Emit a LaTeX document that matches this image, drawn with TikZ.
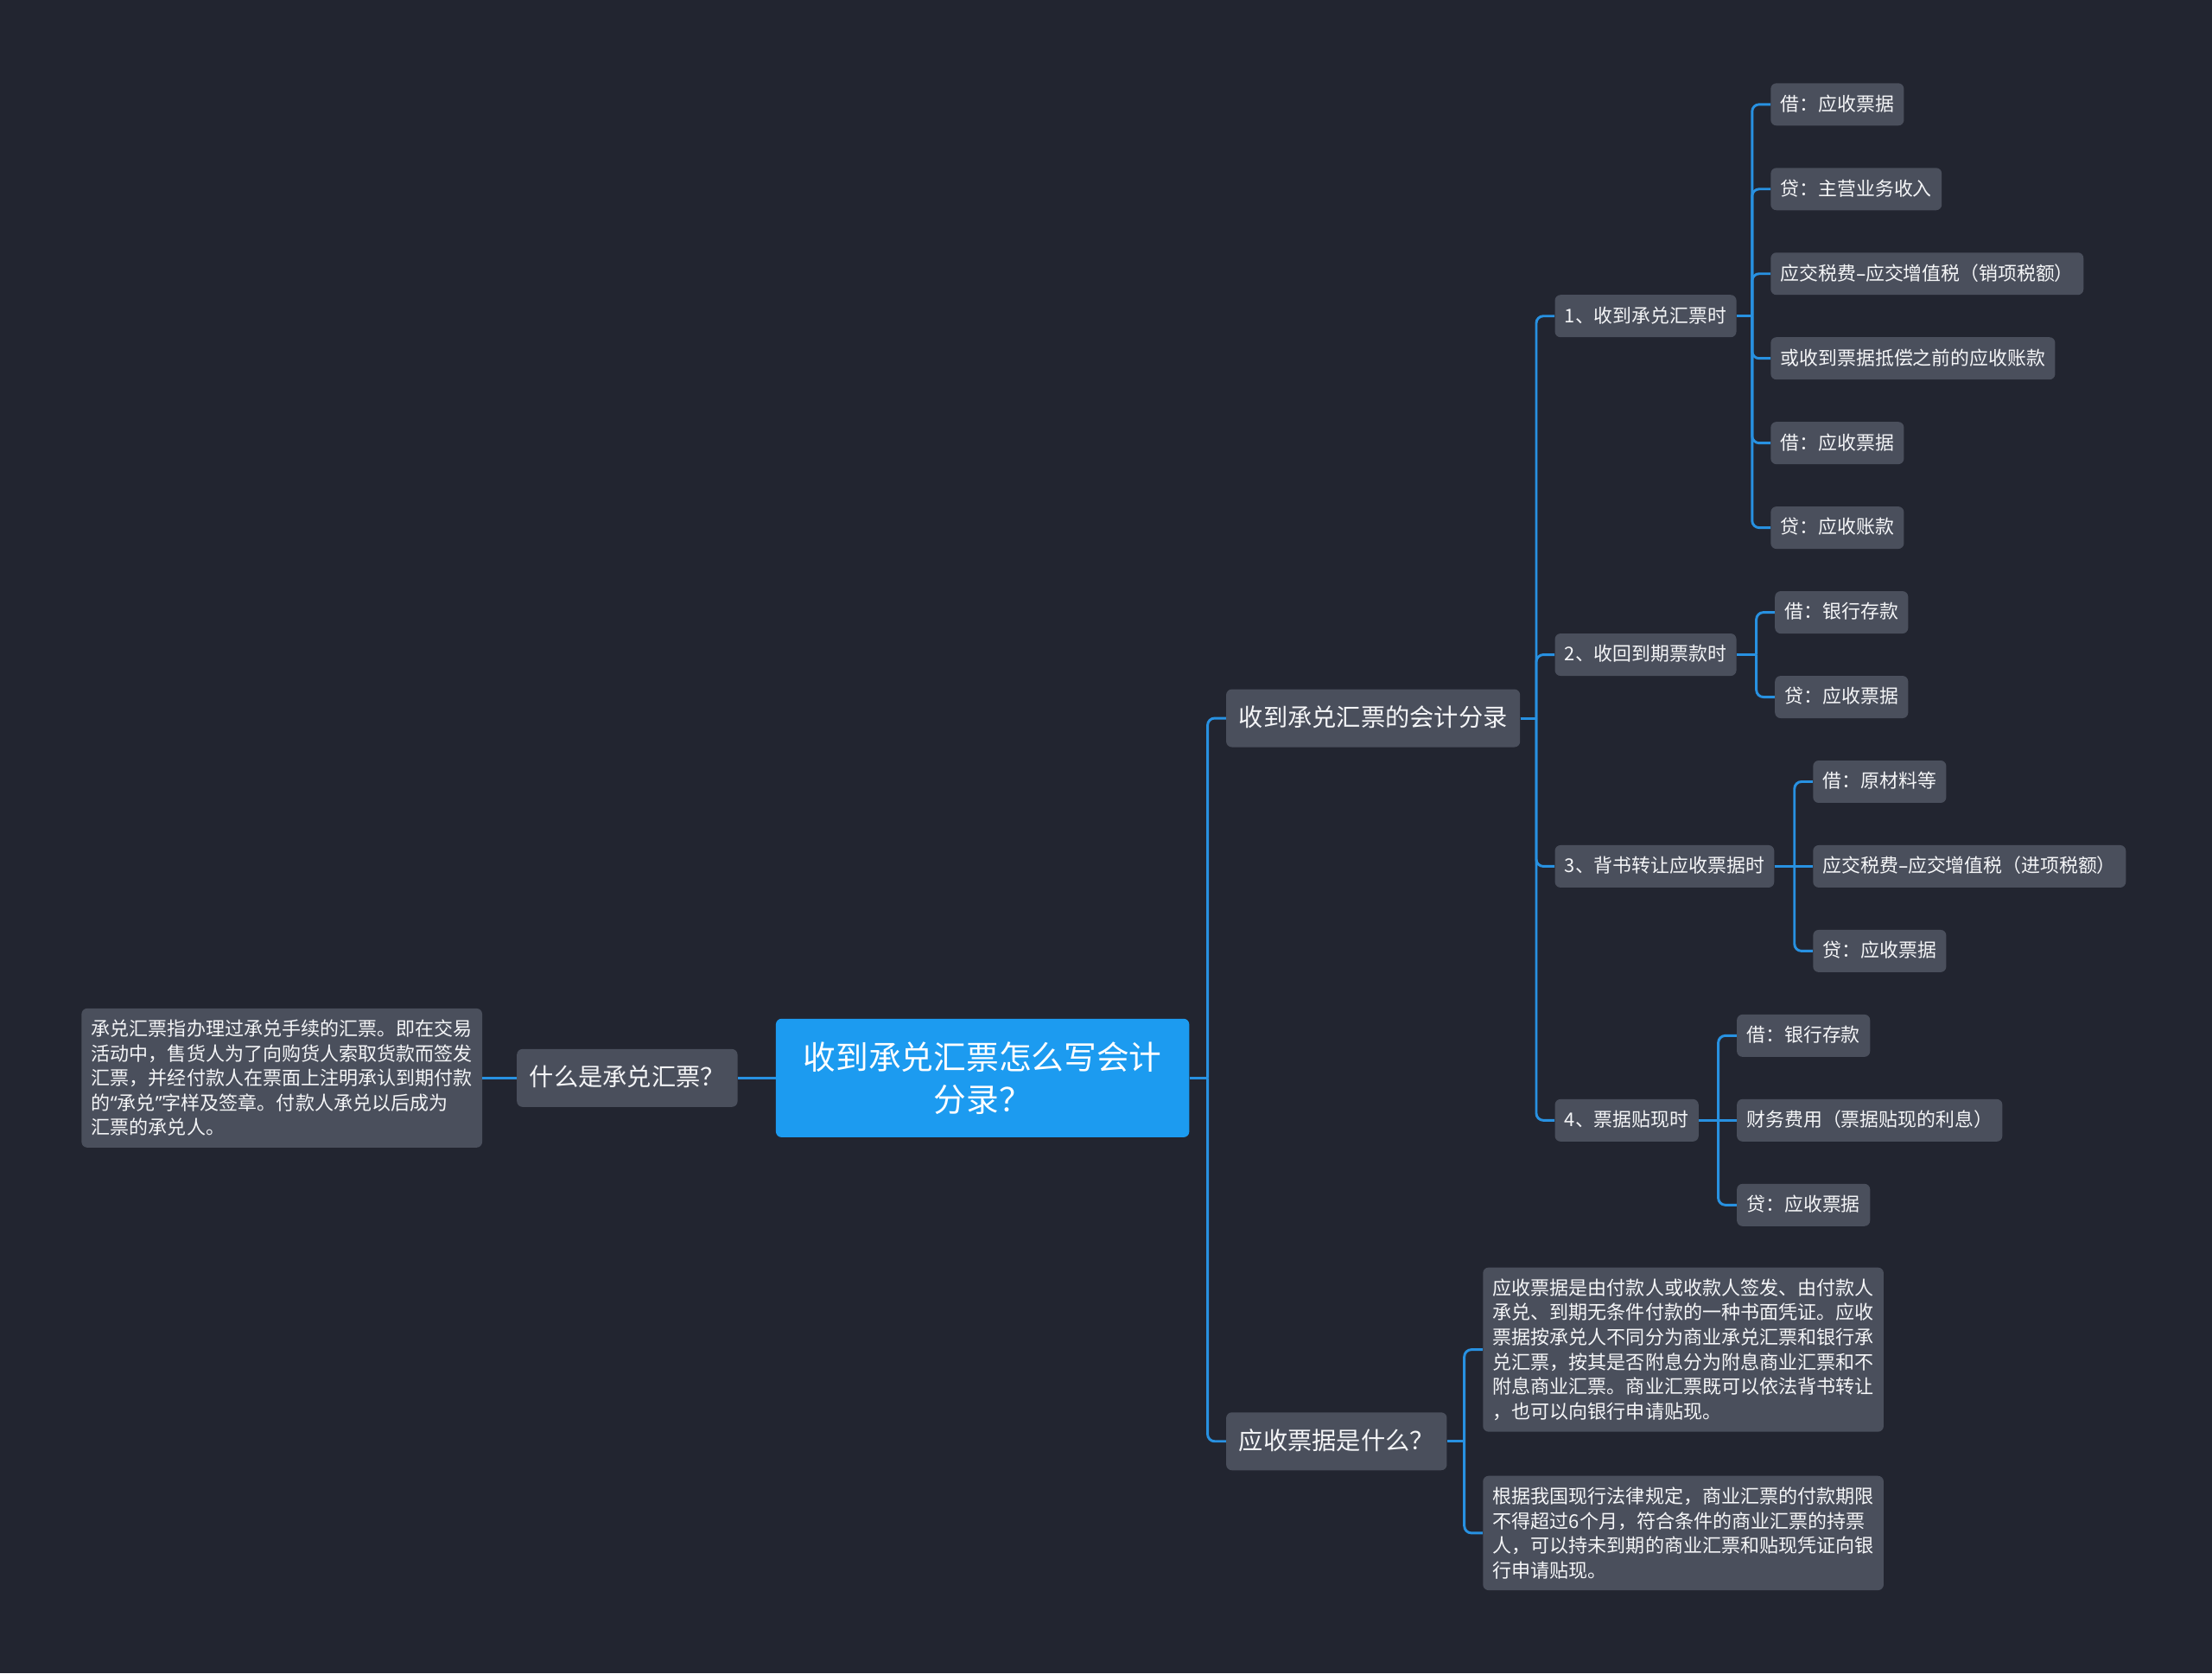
\documentclass[tikz,border=0pt]{standalone}
\usepackage{fontspec}
\setmainfont{Noto Sans CJK SC}
\newfontfamily\latinpart{Noto Sans}
\definecolor{bgdark}{RGB}{34,37,48}
\definecolor{nodegray}{RGB}{74,79,92}
\definecolor{rootblue}{RGB}{28,155,240}
\definecolor{linkblue}{RGB}{40,145,225}
\definecolor{textwhite}{RGB}{244,245,247}
\begin{document}
\begin{tikzpicture}[x=1pt,y=-1pt,
  link/.style={draw=linkblue,line width=1.8pt},
  leaf/.style={fill=nodegray,text=textwhite,rounded corners=4pt,anchor=west,font={\fontsize{13.4}{17}\selectfont},minimum height=30pt,inner xsep=7pt,inner ysep=0pt,text height=11.2pt,text depth=2.2pt},
  topic/.style={leaf,font={\fontsize{17.3}{22}\selectfont},minimum height=41pt,inner xsep=9pt,text height=14.5pt,text depth=2.8pt},
  note/.style={fill=nodegray,text=textwhite,rounded corners=4pt,anchor=west,align=left,font={\fontsize{13.5}{17.5}\selectfont},inner xsep=7pt,inner ysep=8pt},
  central/.style={fill=rootblue,text=white,rounded corners=4pt,align=center,font={\fontsize{23.1}{30}\selectfont},minimum width=293pt,minimum height=84pt}]
\fill[bgdark] (0,0) rectangle (1568,1186);
\node[central] (root) at (696.5,764) {收到承兑汇票怎么写会计\\分录？};
\node[topic,anchor=east] (whatis) at (523,764) {什么是承兑汇票？};
\node[note,anchor=east] (whatisnote) at (342,764) {承兑汇票指办理过承兑手续的汇票。即在交易\\活动中，售货人为了向购货人索取货款而签发\\汇票，并经付款人在票面上注明承认到期付款\\的{\latinpart “}承兑{\latinpart ”}字样及签章。付款人承兑以后成为\\汇票的承兑人。};
\node[topic] (entries) at (869,509) {收到承兑汇票的会计分录};
\node[topic] (recv) at (869,1021.5) {应收票据是什么？};
\node[leaf] (s1) at (1102,224) {1、收到承兑汇票时};
\node[leaf] (s2) at (1102,464) {2、收回到期票款时};
\node[leaf] (s3) at (1102,614) {3、背书转让应收票据时};
\node[leaf] (s4) at (1102,794) {4、票据贴现时};
\node[leaf] (a1) at (1255,74) {借：应收票据};
\node[leaf] (a2) at (1255,134) {贷：主营业务收入};
\node[leaf] (a3) at (1255,194) {应交税费{\latinpart –}应交增值税（销项税额）};
\node[leaf] (a4) at (1255,254) {或收到票据抵偿之前的应收账款};
\node[leaf] (a5) at (1255,314) {借：应收票据};
\node[leaf] (a6) at (1255,374) {贷：应收账款};
\node[leaf] (b1) at (1258,434) {借：银行存款};
\node[leaf] (b2) at (1258,494) {贷：应收票据};
\node[leaf] (c1) at (1285,554) {借：原材料等};
\node[leaf] (c2) at (1285,614) {应交税费{\latinpart –}应交增值税（进项税额）};
\node[leaf] (c3) at (1285,674) {贷：应收票据};
\node[leaf] (d1) at (1231,734) {借：银行存款};
\node[leaf] (d2) at (1231,794) {财务费用（票据贴现的利息）};
\node[leaf] (d3) at (1231,854) {贷：应收票据};
\node[note] (e1) at (1051,956.5) {应收票据是由付款人或收款人签发、由付款人\\承兑、到期无条件付款的一种书面凭证。应收\\票据按承兑人不同分为商业承兑汇票和银行承\\兑汇票，按其是否附息分为附息商业汇票和不\\附息商业汇票。商业汇票既可以依法背书转让\\，也可以向银行申请贴现。};
\node[note] (e2) at (1051,1086.5) {根据我国现行法律规定，商业汇票的付款期限\\不得超过6个月，符合条件的商业汇票的持票\\人，可以持未到期的商业汇票和贴现凭证向银\\行申请贴现。};
\draw[link] (root) -- (whatis);
\draw[link] (whatis) -- (whatisnote);
\draw[link] (s3) -- (c2);
\draw[link] (s4) -- (d2);
\foreach \p/\c in {root/entries,root/recv,entries/s1,entries/s2,entries/s3,entries/s4,s1/a1,s1/a2,s1/a3,s1/a4,s1/a5,s1/a6,s2/b1,s2/b2,s3/c1,s3/c3,s4/d1,s4/d3,recv/e1,recv/e2}{
  \path ([xshift=-13pt]\c.west) coordinate (tk);
  \draw[link] (\p.east) -- (tk |- \p.east);
  \draw[link,rounded corners=5pt] (tk |- \p.east) |- (\c.west);
}
\end{tikzpicture}
\end{document}
